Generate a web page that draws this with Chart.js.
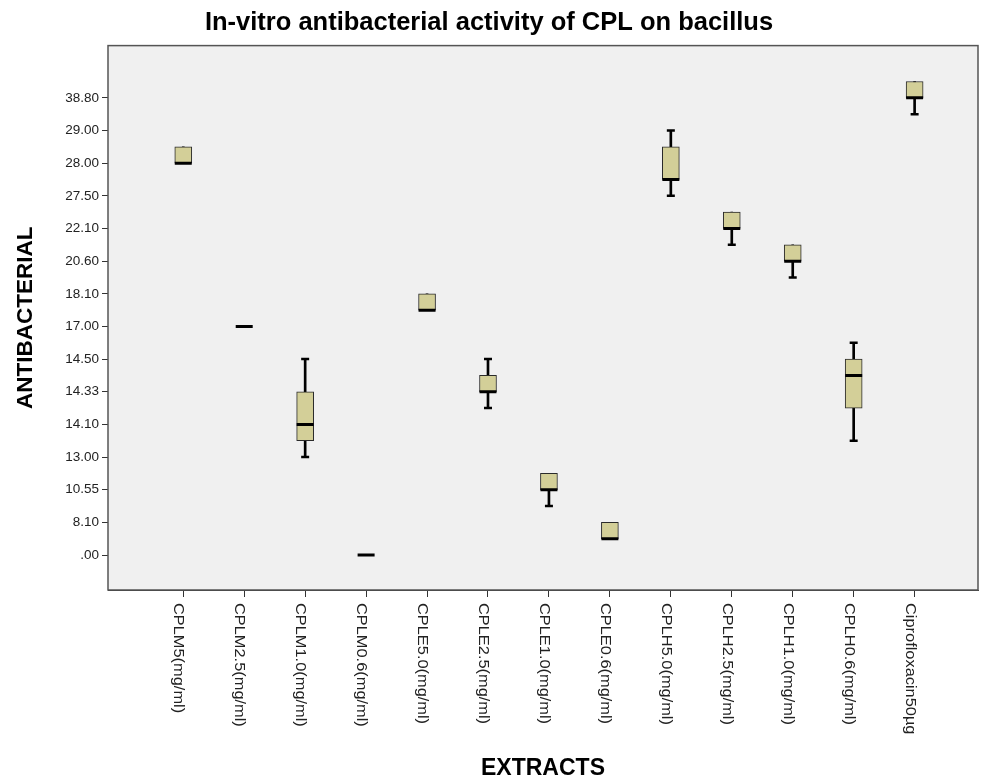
<!DOCTYPE html>
<html>
<head>
<meta charset="utf-8">
<script src="https://cdn.jsdelivr.net/npm/chart.js@4/dist/chart.umd.min.js"></script>
<style>
  body { margin: 0; background: #fff; }
  #wrap { width: 982px; height: 782px; position: relative; }
</style>
</head>
<body>
<div id="wrap"><canvas id="c"></canvas></div>
<script>
// ordinal y axis: SPSS put each distinct value at an evenly spaced rank
const yTickLabels = ['.00', '8.10', '10.55', '13.00', '14.10', '14.33', '14.50', '17.00',
                     '18.10', '20.60', '22.10', '27.50', '28.00', '29.00', '38.80'];

const categories = ['CPLM5(mg/ml)', 'CPLM2.5(mg/ml)', 'CPLM1.0(mg/ml)', 'CPLM0.6(mg/ml)',
                    'CPLE5.0(mg/ml)', 'CPLE2.5(mg/ml)', 'CPLE1.0(mg/ml)', 'CPLE0.6(mg/ml)',
                    'CPLH5.0(mg/ml)', 'CPLH2.5(mg/ml)', 'CPLH1.0(mg/ml)', 'CPLH0.6(mg/ml)',
                    'Ciprofloxacin50µg'];

// box stats, in rank positions of yTickLabels
const whiskerLow  = [12,   7, 3,   0, 7.5, 4.5, 1.5, 0.5, 11,   9.5, 8.5, 3.5, 13.5];
const q1          = [12,   7, 3.5, 0, 7.5, 5,   2,   0.5, 11.5, 10,  9,   4.5, 14];
const median      = [12,   7, 4,   0, 7.5, 5,   2,   0.5, 11.5, 10,  9,   5.5, 14];
const q3          = [12.5, 7, 5,   0, 8,   5.5, 2.5, 1,   12.5, 10.5, 9.5, 6,  14.5];
const whiskerHigh = [12.5, 7, 6,   0, 8,   6,   2.5, 1,   13,   10.5, 9.5, 6.5, 14.5];

const FONT = '"Liberation Sans", Arial, sans-serif';

const whiskerData = [], boxData = [], medianData = [], capData = [];
categories.forEach((c, i) => {
  if (whiskerLow[i] < whiskerHigh[i]) whiskerData.push({x: i, y: [whiskerLow[i], whiskerHigh[i]]});
  if (q1[i] < q3[i]) boxData.push({x: i, y: [q1[i], q3[i]]});
  medianData.push({x: i, y: median[i]});
  if (whiskerLow[i] < q1[i]) capData.push({x: i, y: whiskerLow[i]});
  if (whiskerHigh[i] > q3[i]) capData.push({x: i, y: whiskerHigh[i]});
});

// grey plot background + frame
const frame = {
  id: 'frame',
  beforeDatasetsDraw(chart) {
    const {ctx, chartArea: a} = chart;
    ctx.save();
    ctx.fillStyle = '#f0f0f0';
    ctx.fillRect(a.left, a.top, a.width, a.height);
    ctx.restore();
  },
  afterDraw(chart) {
    const {ctx, chartArea: a} = chart;
    ctx.save();
    ctx.strokeStyle = '#555';
    ctx.lineWidth = 1.5;
    ctx.strokeRect(a.left, a.top, a.width, a.height);
    ctx.restore();
  }
};

// x labels read top-to-bottom, which chart.js can't rotate that way
const xLabels = {
  id: 'xLabels',
  afterDraw(chart) {
    const {ctx} = chart;
    const xs = chart.scales.x;
    ctx.save();
    ctx.fillStyle = '#222';
    ctx.font = '14px ' + FONT;
    ctx.textAlign = 'left';
    ctx.textBaseline = 'middle';
    categories.forEach((lab, i) => {
      const px = xs.getPixelForValue(i);
      ctx.save();
      ctx.translate(px - 5, xs.top + 13);
      ctx.rotate(Math.PI / 2);
      ctx.scale(1.17, 1);
      ctx.fillText(lab, 0, 0);
      ctx.restore();
    });
    ctx.restore();
  }
};

new Chart(document.getElementById('c'), {
  type: 'bar',
  data: {
    datasets: [
      { label: 'whisker', data: whiskerData, backgroundColor: '#000', borderWidth: 0,
        barThickness: 2, grouped: false, order: 4 },
      { label: 'box', data: boxData, backgroundColor: '#d3cf98', borderColor: '#2a2a2a',
        borderWidth: 1, borderSkipped: false, barThickness: 17, grouped: false, order: 3 },
      { label: 'median', type: 'line', data: medianData, showLine: false,
        pointStyle: 'line', pointRadius: 8.5, pointBorderWidth: 3, pointBorderColor: '#000',
        pointHoverRadius: 8.5, order: 1 },
      { label: 'cap', type: 'line', data: capData, showLine: false,
        pointStyle: 'line', pointRadius: 4, pointBorderWidth: 2.5, pointBorderColor: '#000',
        pointHoverRadius: 4, order: 2 }
    ]
  },
  options: {
    responsive: true,
    maintainAspectRatio: false,
    animation: false,
    layout: { autoPadding: false, padding: { left: 0, right: 4, top: 0, bottom: 0 } },
    plugins: {
      legend: { display: false },
      tooltip: { enabled: false },
      title: {
        display: true,
        text: 'In-vitro antibacterial activity of CPL on bacillus',
        color: '#000',
        font: { family: FONT, size: 25.5, weight: 'bold' },
        padding: { top: 8, bottom: 7 }
      }
    },
    scales: {
      x: {
        type: 'linear',
        min: -1.235, max: 13.04,
        offset: false,
        afterBuildTicks: s => { s.ticks = categories.map((_, i) => ({ value: i })); },
        afterFit: s => { s.height = 192; },
        ticks: { callback: () => '', autoSkip: false, maxRotation: 0 },
        grid: { offset: false, drawOnChartArea: false, drawTicks: true, tickLength: 7, color: '#333' },
        border: { display: true, color: '#333', width: 1 },
        title: {
          display: true, text: 'EXTRACTS', color: '#000',
          font: { family: FONT, size: 23, weight: 'bold' },
          padding: { top: 0, bottom: 0 }
        }
      },
      y: {
        type: 'linear',
        min: -1.07, max: 15.6,
        afterBuildTicks: s => { s.ticks = yTickLabels.map((_, i) => ({ value: i })); },
        afterFit: s => { s.width = 108; },
        ticks: {
          callback: v => yTickLabels[v] ?? '',
          color: '#222',
          padding: 3,
          font: { family: FONT, size: 13.5 }
        },
        grid: { drawOnChartArea: false, drawTicks: true, tickLength: 6, color: '#333' },
        border: { display: true, color: '#333', width: 1 },
        title: {
          display: true, text: 'ANTIBACTERIAL', color: '#000',
          font: { family: FONT, size: 22.5, weight: 'bold' },
          padding: { top: 12, bottom: 0 }
        }
      }
    }
  },
  plugins: [frame, xLabels]
});
</script>
</body>
</html>
